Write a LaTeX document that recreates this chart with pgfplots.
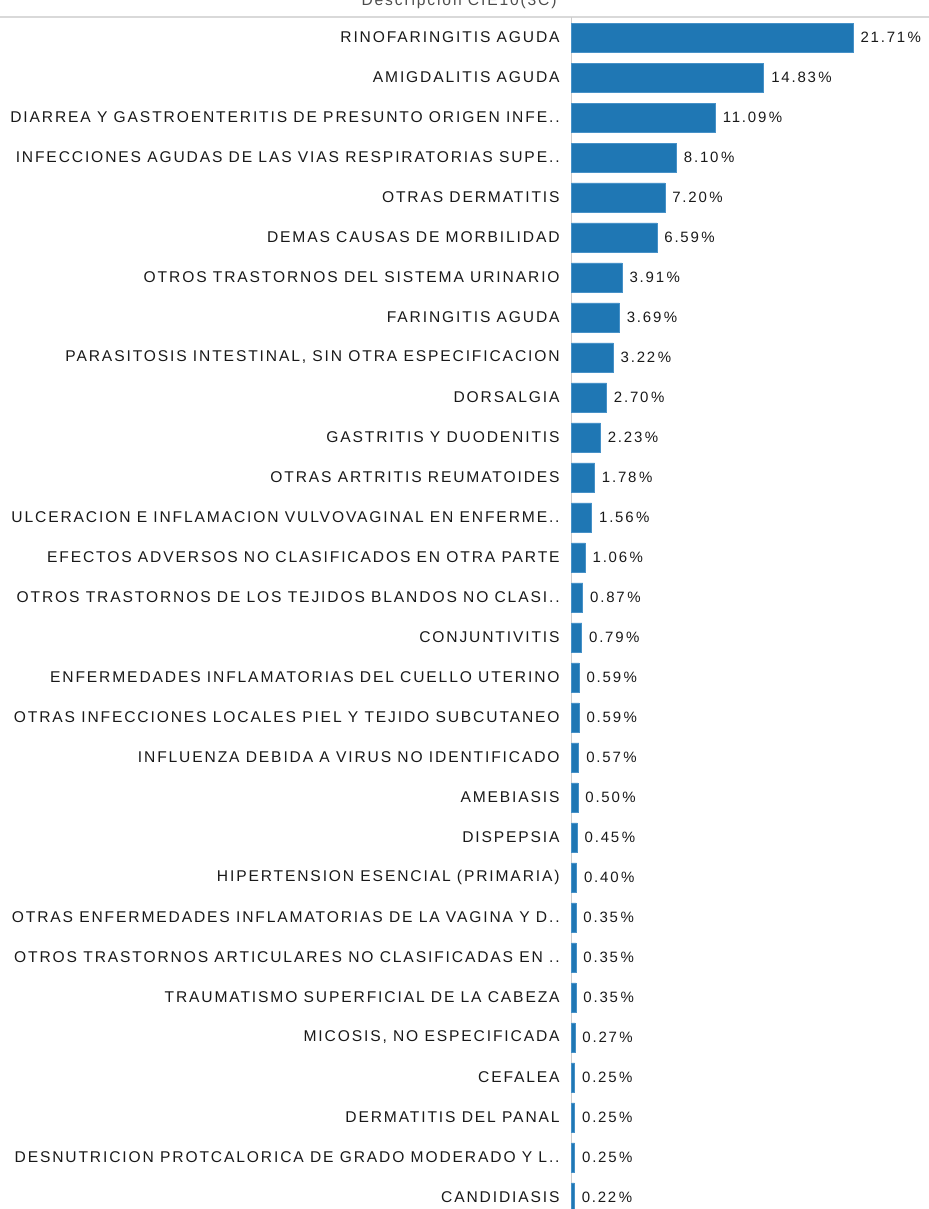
\documentclass[border=0pt]{standalone}
\usepackage{fontspec}
\setmainfont[LetterSpace=12]{Liberation Sans}
\usepackage{pgfplots}
\usepackage{pgfplotstable}
\pgfplotsset{compat=1.18}
\definecolor{barblue}{RGB}{31,119,180}
\definecolor{baredge}{RGB}{70,145,200}
\definecolor{txt}{RGB}{25,25,25}
\pgfplotstableread[col sep=semicolon]{
idx;val;name
0;21.71;RINOFARINGITIS AGUDA
1;14.83;AMIGDALITIS AGUDA
2;11.09;DIARREA Y GASTROENTERITIS DE PRESUNTO ORIGEN INFE..
3;8.10;INFECCIONES AGUDAS DE LAS VIAS RESPIRATORIAS SUPE..
4;7.20;OTRAS DERMATITIS
5;6.59;DEMAS CAUSAS DE MORBILIDAD
6;3.91;OTROS TRASTORNOS DEL SISTEMA URINARIO
7;3.69;FARINGITIS AGUDA
8;3.22;PARASITOSIS INTESTINAL, SIN OTRA ESPECIFICACION
9;2.70;DORSALGIA
10;2.23;GASTRITIS Y DUODENITIS
11;1.78;OTRAS ARTRITIS REUMATOIDES
12;1.56;ULCERACION E INFLAMACION VULVOVAGINAL EN ENFERME..
13;1.06;EFECTOS ADVERSOS NO CLASIFICADOS EN OTRA PARTE
14;0.87;OTROS TRASTORNOS DE LOS TEJIDOS BLANDOS NO CLASI..
15;0.79;CONJUNTIVITIS
16;0.59;ENFERMEDADES INFLAMATORIAS DEL CUELLO UTERINO
17;0.59;OTRAS INFECCIONES LOCALES PIEL Y TEJIDO SUBCUTANEO
18;0.57;INFLUENZA DEBIDA A VIRUS NO IDENTIFICADO
19;0.50;AMEBIASIS
20;0.45;DISPEPSIA
21;0.40;HIPERTENSION ESENCIAL (PRIMARIA)
22;0.35;OTRAS ENFERMEDADES INFLAMATORIAS DE LA VAGINA Y D..
23;0.35;OTROS TRASTORNOS ARTICULARES NO CLASIFICADAS EN ..
24;0.35;TRAUMATISMO SUPERFICIAL DE LA CABEZA
25;0.27;MICOSIS, NO ESPECIFICADA
26;0.25;CEFALEA
27;0.25;DERMATITIS DEL PANAL
28;0.25;DESNUTRICION PROTCALORICA DE GRADO MODERADO Y L..
29;0.22;CANDIDIASIS
}\datatable
\begin{document}
\begin{tikzpicture}
\clip (0,0) rectangle (464.5pt,-604.5pt);
\node[anchor=base east, font=\fontsize{7.8pt}{9pt}\selectfont, text=black!70, inner sep=0pt] at (278.5pt,-3pt) {Descripcion CIE10(3C)};
\draw[black!15, line width=0.6pt] (0,-8.5pt) -- (464.5pt,-8.5pt);
\begin{axis}[
  scale only axis,
  width=178.75pt, height=596pt,
  at={(285.75pt,-8.5pt)}, anchor=north west,
  xbar, bar width=14.5pt, bar shift=0pt,
  xmin=0, xmax=27.56,
  ymin=-0.5125, ymax=29.29,
  y dir=reverse,
  axis lines*=left,
  x axis line style={draw=none},
  y axis line style={draw=black!20, line width=0.6pt},
  xtick=\empty,
  ytick={0,...,29},
  yticklabels from table={\datatable}{name},
  major tick length=0pt,
  yticklabel style={font=\fontsize{7.8pt}{9pt}\selectfont, text=txt, inner sep=0pt, xshift=-5.75pt},
  /pgf/number format/assume math mode=true,
  point meta=x,
  nodes near coords={\pgfmathprintnumber[fixed,fixed zerofill,precision=2]{\pgfplotspointmeta}\,\%},
  every node near coord/.style={anchor=west, inner sep=0pt, xshift=3.5pt, font=\fontsize{7.5pt}{9pt}\selectfont, text=txt},
  clip=false,
]
\addplot[fill=barblue, draw=baredge, line width=0.4pt] table[x=val, y=idx] {\datatable};
\end{axis}
\end{tikzpicture}
\end{document}
